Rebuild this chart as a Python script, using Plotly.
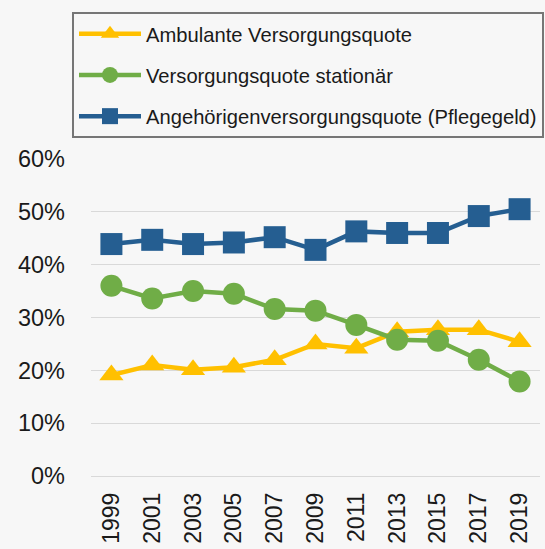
import plotly.graph_objects as go

years = ["1999", "2001", "2003", "2005", "2007", "2009", "2011", "2013", "2015", "2017", "2019"]
ambulant = [0.191, 0.210, 0.201, 0.206, 0.220, 0.250, 0.242, 0.273, 0.277, 0.277, 0.254]
stationaer = [0.360, 0.336, 0.350, 0.345, 0.316, 0.313, 0.286, 0.258, 0.256, 0.220, 0.179]
angehoerige = [0.439, 0.447, 0.439, 0.442, 0.452, 0.428, 0.463, 0.460, 0.460, 0.492, 0.505]

names = ["Ambulante Versorgungsquote", "Versorgungsquote stationär",
         "Angehörigenversorgungsquote (Pflegegeld)"]
colors = ["#FFC000", "#70AD47", "#255E91"]
symbols = ["triangle-up", "circle", "square"]
sizes = [21, 22, 22]
series = [ambulant, stationaer, angehoerige]

fig = go.Figure()
for i, (nm, vals) in enumerate(zip(names, series)):
    fig.add_trace(go.Scatter(
        x=years, y=vals, name=nm, mode="lines+markers",
        legendgroup=f"g{i}",
        line=dict(color=colors[i], width=4.5),
        marker=dict(symbol=symbols[i], size=sizes[i], color=colors[i], line=dict(width=0)),
    ))

BG = "#f7f7f7"
fig.update_layout(
    width=545, height=549,
    margin=dict(l=91, r=5, t=159, b=73, autoexpand=False),
    paper_bgcolor=BG, plot_bgcolor=BG,
    font=dict(family="Liberation Sans, Arial, sans-serif", color="#1a1a1a"),
    showlegend=True,
    legend=dict(
        xref="container", yref="container",
        x=72 / 545, y=1 - 12 / 549, xanchor="left", yanchor="top",
        bgcolor=BG, bordercolor="#767676", borderwidth=2,
        font=dict(size=20.2, color="#1a1a1a"),
        traceorder="grouped", tracegroupgap=12, itemwidth=62,
    ),
    xaxis=dict(
        type="category", range=[-0.5, 10.5], showgrid=False, showline=False,
        ticks="", tickangle=-90, tickfont=dict(size=23, color="#1a1a1a"),
        ticklabelstandoff=11, automargin=False,
    ),
    yaxis=dict(
        range=[0, 0.6], dtick=0.1, tickformat=".0%", showgrid=True,
        gridcolor="#d9d9d9", gridwidth=1.3, zeroline=True, zerolinecolor="#d9d9d9",
        zerolinewidth=1.3, showline=False, ticks="",
        tickfont=dict(size=23.5, color="#1a1a1a"), ticklabelstandoff=25,
        automargin=False,
    ),
)

fig.write_html(
    "out.html",
    config={"displayModeBar": False},
    post_script="document.body.style.margin='0';document.body.style.background='#f7f7f7';",
)
